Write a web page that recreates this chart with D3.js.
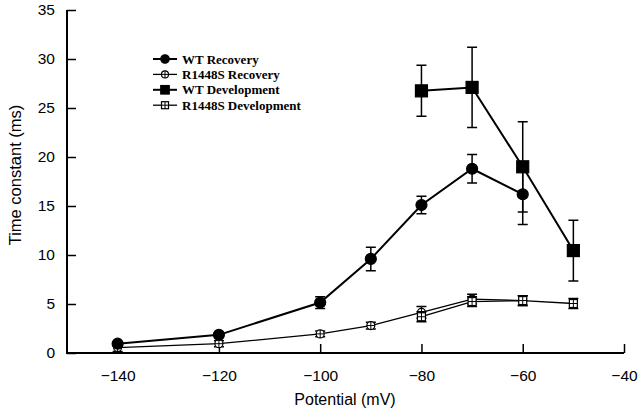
<!DOCTYPE html>
<html><head><meta charset="utf-8">
<script src="https://cdn.jsdelivr.net/npm/d3@7"></script>
<style>body{margin:0;background:#fff}svg{display:block}</style>
</head><body><svg id="c" width="639" height="415"></svg>
<script>
const wtRecV = [-140,-120,-100,-90,-80,-70,-60];
const wtRecY = [0.95,1.85,5.15,9.6,15.1,18.8,16.2];
const wtRecE = [0.2,0.2,0.6,1.2,0.9,1.45,3.1];
const rRecV = [-140,-120,-100,-90,-80,-70,-60];
const rRecY = [0.55,0.95,1.95,2.8,4.15,5.5,5.35];
const rRecE = [0.4,0.3,0.3,0.35,0.6,0.5,0.5];
const wtDevV = [-80,-70,-60,-50];
const wtDevY = [26.75,27.1,19.0,10.45];
const wtDevE = [2.6,4.1,4.6,3.1];
const rDevV = [-80,-70,-60,-50];
const rDevY = [3.7,5.25,5.35,5.05];
const rDevE = [0.5,0.5,0.5,0.5];
const xTicks = [-140,-120,-100,-80,-60,-40];
const yTicks = [0,5,10,15,20,25,30,35];
const legendLabels = ["WT Recovery","R1448S Recovery","WT Development","R1448S Development"];

const svg = d3.select("#c");
const x = d3.scaleLinear().domain([-150,-40]).range([67,624]);
const y = d3.scaleLinear().domain([0,35]).range([353,10]);

const xAxis = svg.append("g").attr("transform","translate(0,353)")
  .call(d3.axisBottom(x).tickValues(xTicks).tickSizeInner(-9).tickSizeOuter(0).tickPadding(17)
    .tickFormat(d=>"\u2212"+Math.abs(d)));
const yAxis = svg.append("g").attr("transform","translate(67,0)")
  .call(d3.axisLeft(y).tickValues(yTicks).tickSizeInner(-9).tickSizeOuter(0).tickPadding(12));
[xAxis,yAxis].forEach(a=>{
  a.select(".domain").attr("stroke","#000").attr("stroke-width",2);
  a.selectAll(".tick line").attr("stroke","#000").attr("stroke-width",1.5);
  a.selectAll("text").attr("font-family","Liberation Sans, Arial, sans-serif").attr("font-size",15.5).attr("fill","#000");
});
xAxis.select(".domain").attr("d","M66,0H624");
yAxis.select(".domain").attr("d","M0,353V10");

svg.append("text").attr("x",345).attr("y",405).attr("text-anchor","middle")
  .attr("font-family","Liberation Sans, Arial, sans-serif").attr("font-size",16).text("Potential (mV)");
svg.append("text").attr("transform","translate(21,175) rotate(-90)").attr("text-anchor","middle")
  .attr("font-family","Liberation Sans, Arial, sans-serif").attr("font-size",16.5).text("Time constant (ms)");

const series = [
  {v:rRecV,y:rRecY,e:rRecE,sym:"circle",fill:"#fff",lw:1.3,size:8},
  {v:rDevV,y:rDevY,e:rDevE,sym:"square",fill:"#fff",lw:1.3,size:8},
  {v:wtRecV,y:wtRecY,e:wtRecE,sym:"circle",fill:"#000",lw:2,size:11},
  {v:wtDevV,y:wtDevY,e:wtDevE,sym:"square",fill:"#000",lw:2,size:12},
];
const line = d3.line().x(d=>x(d[0])).y(d=>y(d[1]));
function drawMarker(g, cx, cy, s){
  if(s.sym==="circle"){
    g.append("circle").attr("cx",cx).attr("cy",cy).attr("r",s.size/2)
      .attr("fill",s.fill).attr("stroke","#000").attr("stroke-width",1.2);
  } else {
    g.append("rect").attr("x",cx-s.size/2).attr("y",cy-s.size/2).attr("width",s.size).attr("height",s.size)
      .attr("fill",s.fill).attr("stroke","#000").attr("stroke-width",1.2);
  }
  if(s.fill==="#fff") g.append("path").attr("d",`M${cx-s.size/2},${cy}H${cx+s.size/2}M${cx},${cy-s.size/2}V${cy+s.size/2}`).attr("stroke","#000").attr("stroke-width",1);
}
series.forEach(s=>{
  const g = svg.append("g");
  const pts = s.v.map((v,i)=>[v,s.y[i],s.e[i]]);
  g.append("path").datum(pts).attr("d",line).attr("fill","none").attr("stroke","#000").attr("stroke-width",s.lw);
  pts.forEach(p=>{
    const cx=x(p[0]), t=y(p[1]+p[2]), b=y(p[1]-p[2]);
    g.append("path").attr("d",`M${cx},${t}V${b}M${cx-5},${t}H${cx+5}M${cx-5},${b}H${cx+5}`)
      .attr("stroke","#000").attr("stroke-width",1.5).attr("fill","none");
  });
  pts.forEach(p=>drawMarker(g,x(p[0]),y(p[1]),s));
});

const legStyles = [series[2],series[0],series[3],series[1]];
legendLabels.forEach((lab,i)=>{
  const ly = 59 + i*15.4;
  const g = svg.append("g");
  const s = legStyles[i];
  g.append("path").attr("d",`M153,${ly}H177`).attr("stroke","#000").attr("stroke-width",s.lw);
  drawMarker(g,165,ly,Object.assign({},s,{size:s.fill==="#000"?8.5:7}));
  g.append("text").attr("x",182).attr("y",ly+4.5).attr("font-family","Liberation Serif, Times New Roman, serif")
    .attr("font-weight","bold").attr("font-size",13).text(lab);
});
</script></body></html>
